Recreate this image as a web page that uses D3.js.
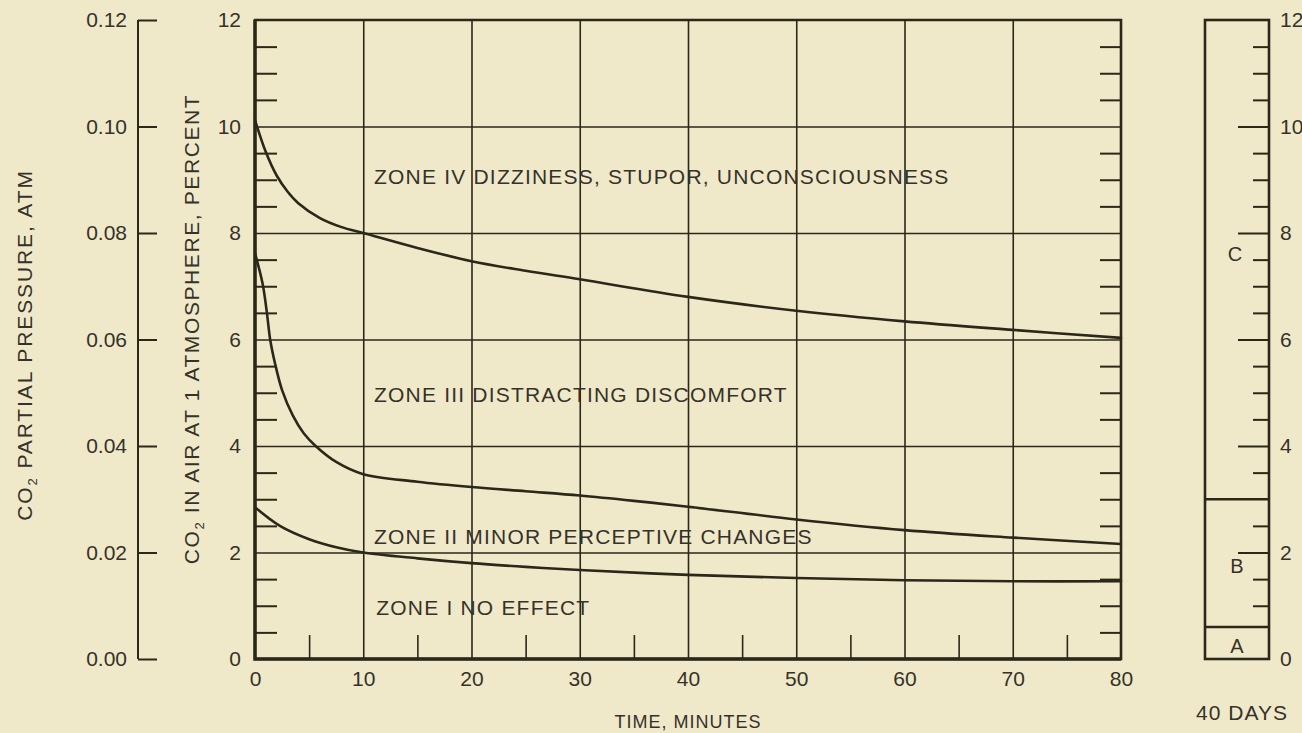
<!DOCTYPE html>
<html>
<head>
<meta charset="utf-8">
<script src="https://cdn.jsdelivr.net/npm/d3@7"></script>
<style>
  html, body { margin: 0; padding: 0; background: #f0e9c9; }
  svg { display: block; }
  text { font-family: "Liberation Sans", Arial, Helvetica, sans-serif; fill: #35322a; }
</style>
</head>
<body>
<svg id="chart" width="1302" height="733"></svg>
<script>
// ---- data -------------------------------------------------------------
// Tolerance boundaries: [time (minutes), CO2 in air (percent)]
const zoneIVBoundary = [[0,10.12],[1,9.52],[2,9.08],[3,8.78],[4,8.56],[6,8.28],[8,8.11],[10,8.0],
  [15,7.72],[20,7.47],[25,7.29],[30,7.13],[40,6.8],[50,6.54],[60,6.34],[70,6.18],[80,6.03]];
const zoneIIIBoundary = [[0,7.62],[0.7,7.05],[1.1,6.5],[1.4,6.0],[1.85,5.55],[2.5,5.05],[3.5,4.57],
  [4.5,4.24],[5.6,4.0],[7.5,3.7],[10,3.47],[15,3.33],[20,3.23],[25,3.15],[30,3.07],[35,2.97],
  [40,2.86],[50,2.62],[60,2.42],[70,2.28],[80,2.16]];
const zoneIIBoundary = [[0,2.85],[2.3,2.5],[5,2.25],[7.5,2.1],[10,2.0],[15,1.89],
  [20,1.8],[25,1.73],[30,1.67],[40,1.58],[50,1.52],[60,1.48],[70,1.46],[80,1.46]];

const zoneLabels = [
  "ZONE IV DIZZINESS, STUPOR, UNCONSCIOUSNESS",
  "ZONE III DISTRACTING DISCOMFORT",
  "ZONE II MINOR PERCEPTIVE CHANGES",
  "ZONE I NO EFFECT"
];
// anchor points for the zone labels: [time, percent]
const zoneLabelAt = [[11, 8.92], [11, 4.83], [11, 2.16], [11.2, 0.83]];

const timeTicks = [0,10,20,30,40,50,60,70,80];
const timeMinor = [5,15,25,35,45,55,65,75];
const pctTicks = [0,2,4,6,8,10,12];
const pctMinor = d3.range(0.5, 12, 0.5).filter(v => v % 2 !== 0);
const atmTicks = [0, 0.02, 0.04, 0.06, 0.08, 0.10, 0.12];

// 40-day exposure bands (percent): A, B, C
const bandNames = ["A", "B", "C"];
const bandEdges = [0, 0.6, 3, 12];
const bandTicks = d3.range(1, 12, 0.5).filter(v => v !== 3);

// ---- layout ----------------------------------------------------------
const ink = "#2b2719";
const X0 = 255, X1 = 1121, Y0 = 659, Y1 = 20;
const BX0 = 1205, BX1 = 1269;

const svg = d3.select("#chart");
const x = d3.scaleLinear().domain([0, 80]).range([X0, X1]);
const y = d3.scaleLinear().domain([0, 12]).range([Y0, Y1]);
const atm = d3.scaleLinear().domain([0, 0.12]).range([Y0, Y1]);

function styleAxis(g, fs) {
  g.select(".domain").remove();
  g.selectAll("line").attr("stroke", ink);
  g.selectAll("text").attr("font-size", fs).style("fill", "#35322a")
    .attr("font-family", "Liberation Sans, Arial, sans-serif");
}

// grid lines
svg.append("g").attr("transform", `translate(0,${Y0})`)
  .call(d3.axisBottom(x).tickValues(timeTicks.slice(1, -1)).tickSize(-(Y0 - Y1)).tickFormat(""))
  .call(g => { styleAxis(g); g.selectAll("line").attr("stroke-width", 1.6); });
svg.append("g").attr("transform", `translate(${X0},0)`)
  .call(d3.axisLeft(y).tickValues(pctTicks.slice(1, -1)).tickSize(-(X1 - X0)).tickFormat(""))
  .call(g => { styleAxis(g); g.selectAll("line").attr("stroke-width", 1.6); });

// minor ticks, left and right edges
svg.append("g").attr("transform", `translate(${X0},0)`)
  .call(d3.axisLeft(y).tickValues(pctMinor).tickSize(-22).tickFormat(""))
  .call(g => { styleAxis(g); g.selectAll("line").attr("stroke-width", 2); });
svg.append("g").attr("transform", `translate(${X1},0)`)
  .call(d3.axisRight(y).tickValues(pctMinor).tickSize(-21).tickFormat(""))
  .call(g => { styleAxis(g); g.selectAll("line").attr("stroke-width", 2); });
// minor ticks, bottom edge
svg.append("g").attr("transform", `translate(0,${Y0})`)
  .call(d3.axisBottom(x).tickValues(timeMinor).tickSize(-24).tickFormat(""))
  .call(g => { styleAxis(g); g.selectAll("line").attr("stroke-width", 1.6); });

// frame
svg.append("path")
  .attr("d", `M${X0},${Y1}H${X1}V${Y0}H${X0}Z`)
  .attr("fill", "none").attr("stroke", ink).attr("stroke-width", 2.6);
svg.append("path")
  .attr("d", `M${X0},${Y1}V${Y0}H${X1}`)
  .attr("fill", "none").attr("stroke", ink).attr("stroke-width", 3.4);

// tick labels
svg.append("g").attr("transform", `translate(${X0},0)`)
  .call(d3.axisLeft(y).tickValues(pctTicks).tickSize(0).tickPadding(14).tickFormat(d3.format("d")))
  .call(g => styleAxis(g, 21));
svg.append("g").attr("transform", `translate(0,${Y0})`)
  .call(d3.axisBottom(x).tickValues(timeTicks).tickSize(0).tickPadding(12).tickFormat(d3.format("d")))
  .call(g => styleAxis(g, 21));

// partial pressure axis
svg.append("g").attr("transform", `translate(138,0)`)
  .call(d3.axisLeft(atm).tickValues(atmTicks).tickSize(-19).tickPadding(11).tickFormat(d3.format(".2f")))
  .call(g => {
    styleAxis(g, 21);
    g.selectAll("line").attr("stroke-width", 2);
    g.append("line").attr("x1", 0).attr("x2", 0).attr("y1", Y1).attr("y2", Y0)
      .attr("stroke", ink).attr("stroke-width", 2);
  });

// curves
const line = d3.line().x(d => x(d[0])).y(d => y(d[1])).curve(d3.curveCatmullRom.alpha(0.5));
[zoneIVBoundary, zoneIIIBoundary, zoneIIBoundary].forEach(data => {
  svg.append("path").datum(data).attr("d", line)
    .attr("fill", "none").attr("stroke", ink).attr("stroke-width", 2.6)
    .attr("stroke-linejoin", "round").attr("stroke-linecap", "round");
});

// zone labels
svg.append("g").selectAll("text").data(zoneLabels).join("text")
  .attr("x", (d, i) => x(zoneLabelAt[i][0]))
  .attr("y", (d, i) => y(zoneLabelAt[i][1]))
  .attr("font-size", 21).attr("letter-spacing", 1.2)
  .text(d => d);

// axis titles
function co2Title(tx, ty, rest, spacing) {
  const t = svg.append("text")
    .attr("transform", `translate(${tx},${ty}) rotate(-90)`)
    .attr("text-anchor", "middle").attr("font-size", 21).attr("letter-spacing", spacing);
  t.append("tspan").text("CO");
  t.append("tspan").attr("font-size", 13).attr("dy", 5).text("2");
  t.append("tspan").attr("dy", -5).text(rest);
}
co2Title(32, 345, " PARTIAL PRESSURE, ATM", 1.9);
co2Title(199, 329, " IN AIR AT 1 ATMOSPHERE, PERCENT", 1.6);

svg.append("text").attr("x", 688).attr("y", 728).attr("text-anchor", "middle")
  .attr("font-size", 18).attr("letter-spacing", 1).text("TIME, MINUTES");

// 40-day exposure bar
const bar = svg.append("g");
bar.append("rect").attr("x", BX0).attr("y", y(12)).attr("width", BX1 - BX0).attr("height", y(0) - y(12))
  .attr("fill", "none").attr("stroke", ink).attr("stroke-width", 2.6);
bar.selectAll("line.edge").data(bandEdges.slice(1, -1)).join("line").attr("class", "edge")
  .attr("x1", BX0).attr("x2", BX1).attr("y1", d => y(d)).attr("y2", d => y(d))
  .attr("stroke", ink).attr("stroke-width", 2.4);
bar.append("g").attr("transform", `translate(${BX1},0)`)
  .call(d3.axisRight(y).tickValues(bandTicks).tickSize(-16).tickFormat(""))
  .call(g => {
    styleAxis(g);
    g.selectAll("line").attr("stroke-width", 2)
      .attr("x2", d => (d % 2 === 0 ? -31 : -16));
  });
bar.append("g").attr("transform", `translate(${BX1},0)`)
  .call(d3.axisRight(y).tickValues(pctTicks).tickSize(0).tickPadding(11).tickFormat(d3.format("d")))
  .call(g => styleAxis(g, 21));
bar.selectAll("text.band").data(bandNames).join("text").attr("class", "band")
  .attr("x", (d, i) => i === 2 ? 1235 : 1237)
  .attr("y", (d, i) => [y(0.25), y(1.75), y(7.6)][i])
  .attr("text-anchor", "middle").attr("dy", "0.35em")
  .attr("font-size", 20).text(d => d);
svg.append("text").attr("x", 1242).attr("y", 720).attr("text-anchor", "middle")
  .attr("font-size", 21).attr("letter-spacing", 1).text("40 DAYS");
</script>
</body>
</html>
